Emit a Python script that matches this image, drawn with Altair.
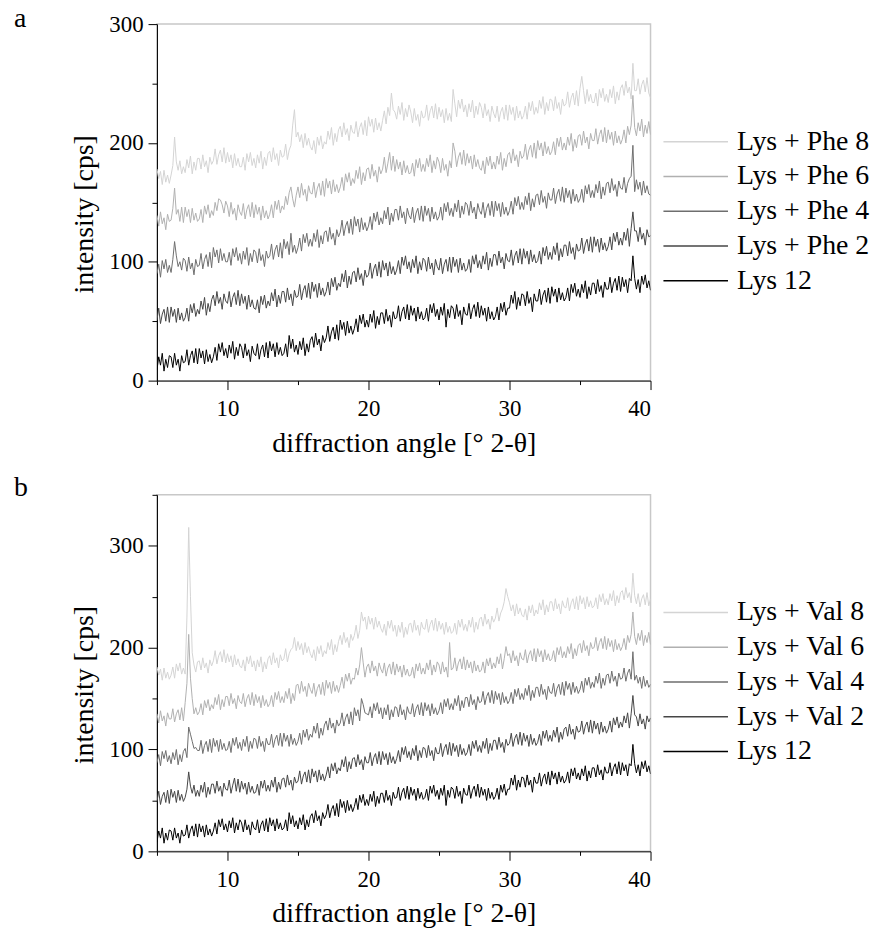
import altair as alt
import pandas as pd

# scan grid of the diffractograms (degrees 2-theta)
ANGLE_START = 5.0
ANGLE_STEP = 0.125

# ---- intensities [cps], 8 values per degree from 5 to 39.875, then 40 ----
LYS_12 = [
    9, 20, 13, 23, 8, 18, 11, 21,
    20, 11, 23, 13, 18, 8, 21, 15,
    16, 26, 13, 21, 25, 15, 27, 14,
    27, 19, 25, 14, 26, 16, 22, 15,
    20, 28, 17, 31, 24, 32, 21, 27,
    19, 30, 23, 33, 18, 28, 21, 31,
    28, 19, 31, 21, 26, 16, 29, 23,
    21, 31, 18, 26, 30, 20, 32, 19,
    33, 25, 31, 20, 32, 22, 28, 21,
    23, 31, 20, 38, 27, 35, 24, 30,
    22, 33, 26, 36, 21, 31, 24, 34,
    37, 28, 40, 30, 35, 25, 38, 32,
    36, 46, 33, 41, 45, 35, 47, 34,
    51, 43, 49, 38, 50, 40, 46, 39,
    44, 52, 41, 55, 48, 56, 45, 51,
    45, 56, 49, 59, 44, 54, 47, 57,
    57, 48, 60, 50, 55, 45, 58, 52,
    53, 63, 50, 58, 62, 52, 64, 51,
    63, 55, 61, 50, 62, 52, 58, 51,
    53, 61, 50, 64, 57, 65, 54, 60,
    51, 62, 55, 65, 45, 60, 53, 63,
    61, 52, 64, 54, 59, 47, 62, 56,
    55, 65, 52, 60, 64, 54, 66, 53,
    63, 55, 61, 50, 62, 52, 58, 51,
    54, 62, 51, 65, 58, 66, 55, 61,
    61, 72, 65, 75, 60, 70, 63, 73,
    72, 63, 75, 65, 70, 58, 73, 67,
    67, 77, 64, 72, 76, 66, 78, 65,
    79, 71, 77, 66, 78, 68, 74, 67,
    70, 78, 67, 81, 74, 82, 71, 77,
    70, 81, 74, 84, 69, 79, 72, 82,
    82, 73, 85, 75, 80, 70, 83, 77,
    77, 87, 74, 82, 86, 76, 88, 75,
    87, 79, 85, 74, 86, 84, 105, 86,
    77, 85, 74, 88, 81, 89, 78, 84,
    76,
]
PHE_2 = [
    51, 61, 48, 56, 60, 50, 62, 49,
    62, 54, 60, 49, 61, 51, 57, 50,
    53, 61, 50, 64, 57, 65, 54, 60,
    56, 67, 60, 70, 55, 65, 58, 68,
    72, 63, 75, 65, 70, 60, 73, 67,
    65, 75, 62, 70, 74, 64, 76, 63,
    73, 65, 71, 60, 72, 62, 68, 61,
    60, 68, 57, 71, 64, 72, 61, 67,
    63, 74, 67, 77, 62, 72, 65, 75,
    75, 66, 78, 68, 73, 63, 76, 70,
    71, 81, 68, 76, 80, 70, 82, 69,
    83, 75, 81, 70, 82, 72, 78, 71,
    75, 83, 72, 86, 79, 87, 76, 82,
    79, 90, 83, 93, 78, 88, 81, 91,
    92, 83, 95, 85, 90, 80, 93, 87,
    89, 99, 86, 94, 98, 88, 100, 87,
    101, 93, 99, 88, 100, 90, 96, 89,
    93, 101, 90, 104, 97, 105, 94, 100,
    91, 102, 95, 105, 90, 100, 93, 103,
    101, 92, 104, 94, 99, 89, 102, 96,
    93, 103, 90, 98, 102, 92, 104, 91,
    104, 96, 102, 91, 103, 93, 99, 92,
    94, 102, 91, 105, 98, 106, 95, 101,
    94, 105, 98, 108, 93, 103, 96, 106,
    106, 97, 109, 99, 104, 94, 107, 101,
    100, 110, 97, 105, 109, 99, 111, 98,
    111, 103, 109, 98, 110, 100, 106, 99,
    101, 109, 98, 112, 105, 113, 102, 108,
    102, 113, 106, 116, 101, 111, 104, 114,
    114, 105, 117, 107, 112, 102, 115, 109,
    110, 120, 107, 115, 119, 109, 121, 108,
    121, 113, 119, 108, 120, 110, 116, 109,
    113, 121, 110, 124, 117, 125, 114, 120,
    114, 125, 118, 128, 113, 128, 142, 126,
    126, 117, 129, 119, 124, 114, 127, 121,
    122,
]
PHE_4 = [
    90, 98, 87, 101, 94, 102, 91, 97,
    91, 102, 117, 105, 96, 100, 93, 103,
    101, 92, 104, 94, 99, 89, 102, 96,
    97, 107, 94, 102, 106, 96, 108, 95,
    112, 104, 110, 99, 111, 101, 107, 100,
    100, 108, 97, 111, 104, 112, 101, 107,
    98, 109, 102, 112, 97, 107, 100, 110,
    108, 99, 111, 101, 106, 96, 109, 103,
    105, 115, 102, 110, 114, 104, 116, 103,
    119, 111, 117, 106, 124, 108, 114, 107,
    112, 120, 109, 123, 116, 124, 113, 119,
    113, 124, 117, 127, 112, 122, 115, 125,
    126, 117, 129, 119, 124, 114, 127, 121,
    125, 135, 122, 130, 134, 124, 136, 123,
    138, 130, 136, 125, 137, 127, 133, 126,
    130, 138, 127, 141, 134, 142, 131, 137,
    132, 143, 136, 146, 131, 141, 134, 144,
    144, 135, 147, 137, 142, 132, 145, 139,
    136, 146, 133, 141, 145, 135, 147, 134,
    147, 139, 145, 134, 146, 136, 142, 135,
    138, 146, 135, 149, 142, 150, 139, 145,
    138, 149, 142, 152, 137, 147, 140, 150,
    148, 139, 151, 141, 146, 136, 149, 143,
    140, 150, 137, 145, 149, 139, 151, 138,
    151, 143, 149, 138, 150, 140, 146, 139,
    143, 151, 140, 154, 147, 155, 144, 150,
    144, 155, 148, 158, 143, 153, 146, 156,
    157, 148, 160, 150, 155, 145, 158, 152,
    152, 162, 149, 157, 161, 151, 163, 150,
    162, 154, 160, 149, 161, 151, 157, 150,
    153, 161, 150, 164, 157, 165, 154, 160,
    154, 165, 158, 168, 153, 163, 156, 166,
    167, 158, 170, 160, 165, 155, 168, 162,
    161, 171, 158, 166, 170, 172, 198, 159,
    169, 161, 167, 156, 168, 158, 164, 157,
    156,
]
PHE_6 = [
    139, 130, 142, 132, 137, 127, 140, 134,
    135, 145, 162, 140, 144, 134, 146, 133,
    146, 138, 144, 133, 145, 135, 141, 134,
    136, 144, 133, 147, 140, 148, 137, 143,
    139, 150, 143, 153, 152, 148, 141, 151,
    147, 138, 150, 140, 145, 135, 148, 142,
    139, 149, 136, 144, 148, 138, 150, 137,
    148, 140, 146, 135, 147, 137, 143, 136,
    140, 148, 137, 151, 144, 152, 141, 147,
    144, 155, 148, 158, 163, 153, 146, 156,
    163, 154, 166, 156, 161, 151, 164, 158,
    157, 167, 154, 162, 166, 156, 168, 155,
    170, 162, 168, 157, 169, 159, 165, 158,
    163, 171, 160, 174, 167, 175, 164, 170,
    166, 177, 170, 180, 165, 175, 168, 178,
    179, 170, 182, 172, 177, 167, 180, 174,
    178, 188, 175, 183, 192, 177, 189, 176,
    186, 178, 184, 173, 185, 175, 181, 174,
    175, 183, 172, 186, 179, 187, 176, 182,
    176, 187, 180, 190, 175, 185, 178, 188,
    184, 175, 187, 177, 182, 172, 185, 179,
    200, 193, 180, 188, 192, 182, 194, 181,
    191, 183, 189, 178, 190, 180, 186, 179,
    177, 185, 174, 188, 181, 189, 178, 184,
    178, 189, 182, 192, 177, 187, 180, 190,
    192, 183, 195, 185, 190, 180, 193, 187,
    189, 199, 186, 194, 198, 188, 200, 187,
    202, 194, 200, 189, 201, 191, 197, 190,
    193, 201, 190, 204, 197, 205, 194, 200,
    194, 205, 198, 208, 193, 203, 196, 206,
    207, 198, 210, 200, 205, 195, 208, 202,
    202, 212, 199, 207, 211, 201, 213, 200,
    211, 203, 209, 198, 210, 200, 206, 199,
    203, 211, 200, 214, 207, 215, 240, 213,
    206, 217, 210, 220, 205, 215, 208, 218,
    207,
]
PHE_8 = [
    178, 170, 176, 165, 177, 167, 173, 166,
    173, 181, 205, 184, 177, 185, 174, 180,
    175, 186, 179, 189, 174, 184, 177, 187,
    187, 178, 190, 180, 185, 175, 188, 182,
    185, 195, 182, 190, 194, 184, 196, 183,
    192, 184, 190, 179, 191, 181, 187, 180,
    180, 188, 177, 191, 184, 192, 181, 187,
    179, 190, 183, 193, 178, 188, 181, 191,
    193, 184, 196, 186, 191, 181, 194, 188,
    189, 199, 186, 194, 198, 215, 228, 205,
    209, 201, 207, 196, 208, 198, 204, 197,
    194, 202, 191, 205, 198, 206, 195, 201,
    199, 210, 203, 213, 198, 208, 201, 211,
    214, 205, 217, 207, 212, 202, 215, 209,
    208, 218, 205, 213, 217, 207, 219, 206,
    222, 214, 220, 209, 221, 211, 217, 210,
    219, 227, 216, 230, 223, 242, 228, 226,
    220, 231, 224, 234, 219, 229, 222, 232,
    226, 217, 229, 219, 224, 214, 227, 221,
    222, 232, 219, 227, 231, 221, 233, 220,
    230, 222, 228, 217, 229, 219, 225, 218,
    245, 233, 222, 236, 229, 237, 226, 232,
    222, 233, 226, 236, 221, 231, 224, 234,
    230, 221, 233, 223, 228, 218, 231, 225,
    221, 231, 218, 226, 230, 220, 232, 219,
    232, 224, 230, 219, 231, 221, 227, 220,
    223, 231, 220, 234, 227, 235, 224, 230,
    225, 236, 229, 239, 224, 234, 227, 237,
    236, 227, 239, 229, 234, 224, 237, 231,
    233, 243, 230, 238, 242, 232, 244, 231,
    246, 256, 244, 233, 245, 235, 241, 234,
    234, 242, 231, 245, 238, 246, 235, 241,
    234, 245, 238, 248, 233, 243, 236, 246,
    249, 240, 252, 242, 247, 237, 267, 244,
    244, 254, 241, 249, 253, 243, 255, 242,
    238,
]
VAL_2 = [
    49, 59, 46, 54, 58, 48, 60, 47,
    61, 53, 59, 48, 60, 50, 56, 49,
    53, 61, 78, 64, 57, 65, 54, 60,
    54, 65, 58, 68, 53, 63, 56, 66,
    66, 57, 69, 59, 64, 54, 67, 61,
    60, 70, 57, 65, 72, 59, 71, 58,
    69, 61, 67, 56, 68, 58, 64, 57,
    58, 66, 55, 69, 62, 70, 59, 65,
    59, 70, 63, 73, 58, 68, 61, 71,
    72, 63, 75, 65, 70, 60, 73, 67,
    69, 79, 66, 74, 78, 68, 80, 67,
    81, 73, 79, 68, 80, 70, 76, 69,
    75, 83, 72, 86, 79, 87, 76, 82,
    79, 90, 83, 93, 78, 88, 81, 91,
    92, 83, 95, 85, 90, 80, 93, 87,
    87, 97, 84, 92, 96, 86, 98, 85,
    98, 90, 96, 85, 97, 87, 93, 86,
    91, 99, 88, 102, 95, 103, 92, 98,
    90, 101, 94, 104, 89, 99, 92, 102,
    101, 92, 104, 94, 99, 89, 102, 96,
    96, 106, 93, 101, 105, 95, 107, 94,
    106, 98, 104, 93, 105, 95, 101, 94,
    97, 105, 94, 108, 101, 109, 98, 104,
    97, 108, 101, 111, 96, 106, 99, 109,
    109, 100, 112, 102, 107, 97, 110, 104,
    106, 116, 103, 111, 115, 105, 117, 104,
    116, 108, 114, 103, 115, 105, 111, 104,
    107, 115, 104, 118, 111, 119, 108, 114,
    108, 119, 112, 122, 107, 117, 110, 120,
    122, 113, 125, 115, 120, 110, 123, 117,
    118, 128, 115, 123, 127, 117, 129, 116,
    128, 120, 126, 115, 127, 117, 123, 116,
    120, 128, 117, 131, 124, 132, 121, 127,
    122, 133, 126, 136, 121, 135, 153, 134,
    132, 123, 135, 125, 130, 120, 133, 127,
    131,
]
VAL_4 = [
    87, 95, 84, 98, 91, 99, 88, 94,
    86, 97, 90, 100, 85, 95, 88, 98,
    101, 92, 122, 115, 108, 101, 102, 99,
    99, 109, 96, 104, 108, 98, 110, 97,
    111, 103, 109, 98, 110, 100, 106, 99,
    100, 108, 97, 111, 104, 112, 101, 107,
    99, 110, 103, 113, 98, 108, 101, 111,
    110, 101, 113, 103, 108, 98, 111, 105,
    105, 115, 102, 110, 114, 104, 116, 103,
    116, 108, 114, 103, 115, 105, 111, 104,
    108, 116, 105, 119, 112, 120, 109, 115,
    112, 123, 116, 126, 111, 121, 114, 124,
    128, 119, 131, 121, 126, 116, 129, 123,
    126, 136, 123, 131, 135, 125, 137, 124,
    141, 133, 139, 128, 150, 144, 136, 135,
    134, 142, 131, 145, 138, 146, 135, 141,
    130, 141, 134, 144, 129, 139, 132, 142,
    141, 132, 144, 134, 139, 129, 142, 136,
    135, 145, 132, 140, 144, 134, 146, 133,
    146, 138, 144, 133, 145, 135, 141, 134,
    138, 146, 135, 149, 142, 150, 139, 145,
    139, 150, 143, 153, 138, 148, 141, 151,
    151, 142, 154, 144, 149, 139, 152, 146,
    147, 157, 144, 152, 156, 146, 158, 145,
    157, 149, 155, 144, 156, 146, 152, 145,
    148, 156, 145, 159, 152, 160, 149, 155,
    149, 160, 153, 163, 148, 158, 151, 161,
    161, 152, 164, 154, 159, 149, 162, 156,
    155, 165, 152, 160, 164, 154, 166, 153,
    167, 159, 165, 154, 166, 156, 162, 155,
    159, 167, 156, 170, 163, 171, 160, 166,
    161, 172, 165, 175, 160, 170, 163, 173,
    174, 165, 177, 167, 172, 162, 175, 169,
    170, 180, 167, 175, 179, 169, 196, 168,
    173, 165, 171, 160, 172, 162, 168, 161,
    164,
]
VAL_6 = [
    135, 126, 138, 128, 133, 123, 136, 130,
    130, 140, 127, 135, 139, 129, 141, 128,
    146, 165, 213, 170, 150, 135, 141, 134,
    137, 145, 134, 148, 141, 149, 138, 144,
    140, 151, 144, 154, 139, 149, 142, 152,
    152, 143, 155, 145, 150, 140, 153, 147,
    145, 155, 142, 150, 154, 144, 156, 143,
    154, 146, 152, 141, 153, 143, 149, 142,
    145, 153, 142, 156, 149, 157, 146, 152,
    146, 157, 150, 160, 145, 155, 148, 163,
    164, 155, 167, 157, 162, 152, 165, 159,
    155, 165, 152, 160, 164, 154, 166, 153,
    168, 160, 166, 155, 167, 157, 163, 156,
    163, 171, 160, 174, 167, 175, 164, 170,
    169, 180, 173, 183, 200, 185, 171, 181,
    184, 175, 187, 177, 182, 172, 185, 179,
    175, 185, 172, 180, 184, 174, 186, 173,
    184, 176, 182, 171, 183, 173, 179, 172,
    173, 181, 170, 184, 177, 185, 174, 180,
    174, 185, 178, 188, 173, 183, 176, 186,
    183, 174, 186, 176, 181, 171, 205, 178,
    180, 190, 177, 185, 189, 179, 191, 178,
    188, 180, 186, 175, 187, 177, 183, 176,
    178, 186, 175, 189, 182, 190, 179, 185,
    180, 191, 184, 194, 179, 189, 201, 192,
    194, 185, 197, 187, 192, 182, 195, 189,
    188, 198, 185, 193, 197, 187, 199, 186,
    199, 191, 197, 186, 198, 188, 194, 187,
    189, 197, 186, 200, 193, 201, 190, 196,
    190, 201, 194, 204, 189, 199, 192, 202,
    204, 195, 207, 197, 202, 192, 205, 199,
    200, 210, 197, 205, 209, 199, 211, 198,
    209, 201, 207, 196, 208, 198, 204, 197,
    201, 209, 198, 212, 205, 213, 235, 211,
    203, 214, 207, 217, 202, 212, 205, 215,
    203,
]
VAL_8 = [
    181, 173, 179, 168, 180, 170, 176, 169,
    173, 181, 170, 184, 177, 185, 174, 180,
    174, 230, 318, 250, 195, 183, 176, 186,
    187, 178, 190, 180, 185, 175, 188, 182,
    187, 197, 184, 192, 196, 186, 198, 185,
    194, 186, 192, 181, 193, 183, 189, 182,
    180, 188, 177, 191, 184, 192, 181, 187,
    177, 188, 181, 191, 176, 186, 179, 189,
    192, 183, 195, 185, 190, 180, 193, 187,
    189, 199, 186, 194, 198, 200, 210, 197,
    206, 198, 204, 193, 205, 195, 201, 194,
    190, 198, 187, 201, 194, 202, 191, 197,
    194, 205, 198, 208, 193, 203, 196, 206,
    212, 203, 215, 205, 210, 200, 213, 207,
    212, 222, 209, 217, 235, 226, 230, 218,
    231, 223, 229, 218, 230, 220, 226, 219,
    215, 223, 212, 226, 219, 227, 216, 222,
    211, 222, 215, 225, 210, 220, 213, 223,
    224, 215, 227, 217, 222, 212, 225, 219,
    218, 228, 215, 223, 227, 217, 229, 216,
    226, 218, 224, 213, 225, 215, 221, 214,
    216, 224, 213, 227, 220, 228, 217, 223,
    216, 227, 220, 230, 215, 225, 218, 228,
    230, 221, 233, 223, 228, 218, 231, 225,
    229, 239, 226, 234, 238, 245, 258, 250,
    244, 236, 242, 231, 243, 233, 239, 232,
    230, 238, 227, 241, 234, 242, 231, 237,
    233, 244, 237, 247, 232, 242, 235, 245,
    245, 236, 248, 238, 243, 233, 246, 240,
    239, 249, 236, 244, 248, 238, 250, 237,
    251, 243, 249, 238, 250, 240, 246, 239,
    241, 249, 238, 252, 245, 253, 242, 248,
    242, 253, 246, 256, 241, 251, 244, 254,
    256, 247, 259, 249, 254, 244, 273, 251,
    243, 253, 240, 248, 252, 242, 254, 241,
    248,
]

PHE_NAMES = ["Lys + Phe 8", "Lys + Phe 6", "Lys + Phe 4", "Lys + Phe 2", "Lys 12"]
VAL_NAMES = ["Lys + Val 8", "Lys + Val 6", "Lys + Val 4", "Lys + Val 2", "Lys 12"]
GRAYS = ["#d4d4d4", "#b0b0b0", "#6e6e6e", "#464646", "#000000"]

SERIF = "Liberation Serif"


def long_table(names, series):
    rows = []
    for name, values in zip(names, series):
        for i, v in enumerate(values):
            rows.append({"angle": ANGLE_START + ANGLE_STEP * i, "intensity": v, "sample": name})
    return pd.DataFrame(rows)


def panel(df, names, ymax, yticks, letter, title_offset):
    x = alt.X(
        "angle:Q",
        scale=alt.Scale(domain=[5, 40], nice=False, zero=False),
        axis=alt.Axis(
            values=[5, 10, 15, 20, 25, 30, 35, 40],
            labelExpr="datum.value % 10 === 0 ? datum.label : ''",
            tickSize={"condition": {"test": "datum.value % 10 === 0", "value": 9}, "value": 4},
            labelPadding=8,
            title="diffraction angle [° 2-θ]",
            titlePadding=9,
        ),
    )
    y = alt.Y(
        "intensity:Q",
        scale=alt.Scale(domain=[0, ymax], nice=False),
        axis=alt.Axis(
            values=yticks,
            labelExpr="datum.value % 100 === 0 ? datum.label : ''",
            tickSize={"condition": {"test": "datum.value % 100 === 0", "value": 9}, "value": 5},
            labelPadding=5,
            title="intensity [cps]",
            titlePadding=10,
            titleY=191,
        ),
    )
    color = alt.Color(
        "sample:N",
        scale=alt.Scale(domain=names, range=GRAYS),
        sort=names,
        legend=alt.Legend(
            title=None,
            orient="none",
            legendX=509,
            legendY=101,
            symbolType="stroke",
            symbolSize=4225,
            symbolStrokeWidth=1.5,
            clipHeight=35,
            rowPadding=0,
            padding=0,
            labelOffset=8,
            labelFont=SERIF,
            labelFontSize=28,
            labelColor="black",
        ),
    )
    return (
        alt.Chart(df)
        .mark_line(strokeWidth=1, clip=True)
        .encode(x=x, y=y, color=color, order="angle:Q")
        .properties(
            width=497,
            height=359,
            title=alt.TitleParams(
                letter,
                anchor="start",
                frame="group",
                dx=-144,
                fontSize=28,
                font=SERIF,
                fontWeight="normal",
                baseline="alphabetic",
                offset=title_offset,
            ),
        )
    )


df_phe = long_table(PHE_NAMES, [PHE_8, PHE_6, PHE_4, PHE_2, LYS_12])
df_val = long_table(VAL_NAMES, [VAL_8, VAL_6, VAL_4, VAL_2, LYS_12])

top = panel(df_phe, PHE_NAMES, 300, [0, 50, 100, 150, 200, 250, 300], "a", -42)
bottom = panel(df_val, VAL_NAMES, 350, [0, 50, 100, 150, 200, 250, 300, 350], "b", -30)

chart = (
    alt.vconcat(top, bottom, spacing=15)
    .resolve_scale(color="independent")
    .resolve_legend(color="independent")
    .properties(padding={"left": 5, "top": -7, "right": 0, "bottom": 0})
    .configure_view(stroke="#c8c8c8", strokeWidth=1.5)
    .configure_axis(
        domainColor="black",
        domainWidth=1,
        tickColor="black",
        tickWidth=1,
        grid=False,
        labelFont=SERIF,
        labelFontSize=23,
        labelColor="black",
        titleFont=SERIF,
        titleFontSize=28,
        titleFontWeight="normal",
        titleColor="black",
    )
)

chart.save("out.html", embed_options={"renderer": "svg", "actions": False})
